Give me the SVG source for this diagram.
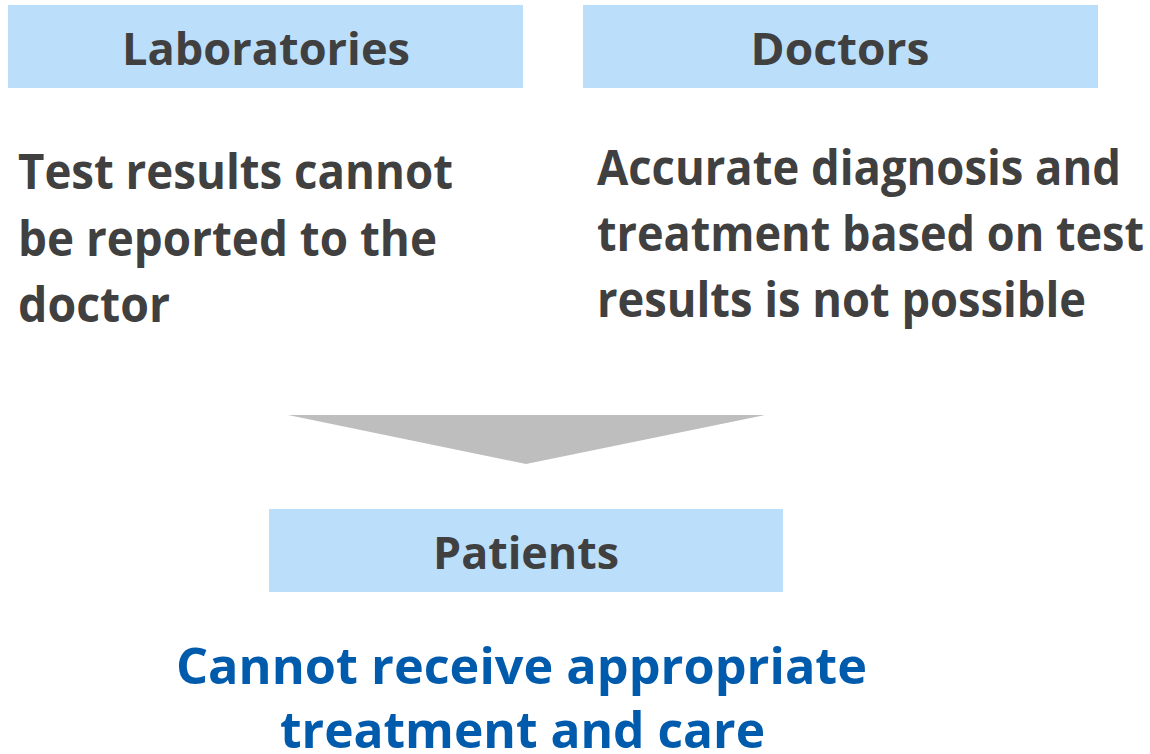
<svg xmlns="http://www.w3.org/2000/svg" width="1150" height="754" viewBox="0 0 1150 754">
<style>
.box{fill:#BBDEFB}
text{font-family:"Open Sans",Lato,sans-serif;font-weight:bold}
.hdr{font-size:45px;fill:#404040;text-anchor:middle}
.body{font-size:49px;fill:#404040}
.res{font-size:51px;fill:#005BAC;text-anchor:middle}
</style>
<rect width="1150" height="754" fill="#fff"/>
<g id="laboratories">
<rect class="box" x="8" y="5" width="515" height="83"/>
<text class="hdr" x="266" y="65" textLength="288" lengthAdjust="spacingAndGlyphs">Laboratories</text>
</g>
<g id="doctors">
<rect class="box" x="583" y="5" width="515" height="83"/>
<text class="hdr" x="840" y="65" textLength="179" lengthAdjust="spacingAndGlyphs">Doctors</text>
</g>
<g id="lab-text">
<text class="body" x="18" y="189" textLength="435" lengthAdjust="spacingAndGlyphs">Test results cannot</text>
<text class="body" x="18" y="256" textLength="419" lengthAdjust="spacingAndGlyphs">be reported to the</text>
<text class="body" x="18" y="322" textLength="152" lengthAdjust="spacingAndGlyphs">doctor</text>
</g>
<g id="doc-text">
<text class="body" x="597" y="185" textLength="524" lengthAdjust="spacingAndGlyphs">Accurate diagnosis and</text>
<text class="body" x="597" y="251" textLength="547" lengthAdjust="spacingAndGlyphs">treatment based on test</text>
<text class="body" x="597" y="317" textLength="489" lengthAdjust="spacingAndGlyphs">results is not possible</text>
</g>
<g id="connectors">
<polygon points="288,415 765,415 526,464" fill="#BEBEBE"/>
</g>
<g id="patients">
<rect class="box" x="269" y="509" width="514" height="83"/>
<text class="hdr" x="526" y="569" textLength="186" lengthAdjust="spacingAndGlyphs">Patients</text>
</g>
<g id="result">
<text class="res" x="521.5" y="684" textLength="691" lengthAdjust="spacingAndGlyphs">Cannot receive appropriate</text>
<text class="res" x="522.5" y="748" textLength="485" lengthAdjust="spacingAndGlyphs">treatment and care</text>
</g>
</svg>
